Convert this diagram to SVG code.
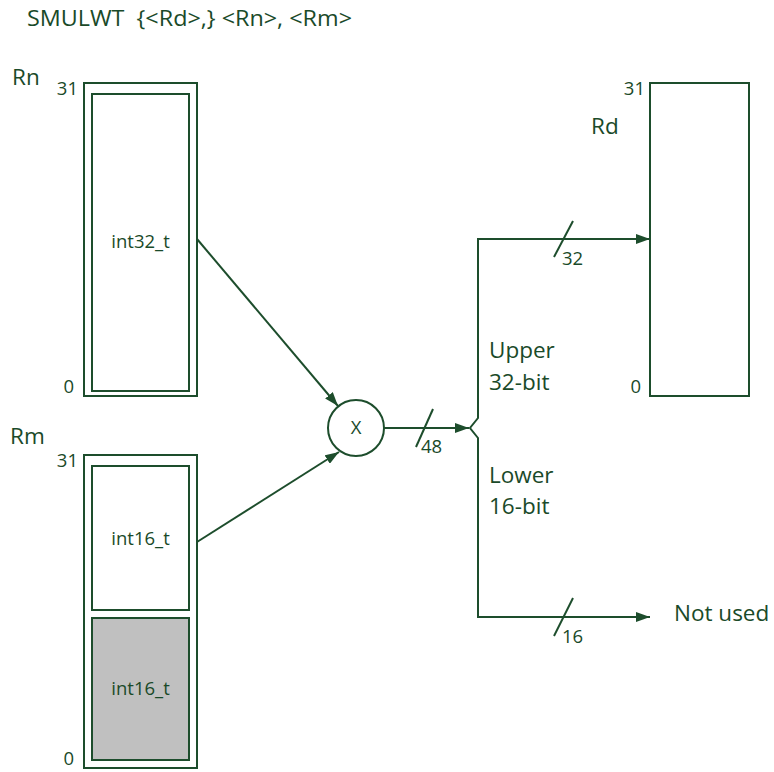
<svg xmlns="http://www.w3.org/2000/svg" width="774" height="772" viewBox="0 0 774 772">
<defs>
<marker id="ah" markerWidth="14" markerHeight="10" refX="14" refY="5" orient="auto" markerUnits="userSpaceOnUse">
<path d="M0,0 L14,5 L0,10 Z" fill="#1d4d2c"/>
</marker>
<style>
text{font-family:"Open Sans","Liberation Sans",sans-serif;fill:#1a4a29}
.t{font-size:22.5px}
.s{font-size:18.5px}
.b{fill:none;stroke:#1d4d2c;stroke-width:2}
.c{fill:none;stroke:#1d4d2c;stroke-width:2}
</style>
</defs>
<rect width="774" height="772" fill="#fff"/>
<text class="t" x="27" y="26" xml:space="preserve" textLength="325" lengthAdjust="spacingAndGlyphs">SMULWT  {&lt;Rd&gt;,} &lt;Rn&gt;, &lt;Rm&gt;</text>
<g id="Rn">
<text class="t" x="12" y="85">Rn</text>
<text class="s" x="78" y="95" text-anchor="end">31</text>
<text class="s" x="74" y="393" text-anchor="end">0</text>
<rect class="b" x="84" y="83" width="113" height="313"/>
<rect class="b" x="92" y="94" width="97" height="297"/>
<text class="s" x="140.5" y="248" text-anchor="middle">int32_t</text>
</g>
<g id="Rm">
<text class="t" x="10" y="444">Rm</text>
<text class="s" x="78" y="467" text-anchor="end">31</text>
<text class="s" x="74" y="765" text-anchor="end">0</text>
<rect class="b" x="84" y="455" width="113" height="313"/>
<rect class="b" x="92" y="466" width="97" height="144"/>
<rect x="92" y="618" width="97" height="142" fill="#c0c0c0" stroke="#1d4d2c" stroke-width="2"/>
<text class="s" x="140.5" y="545" text-anchor="middle">int16_t</text>
<text class="s" x="140.5" y="695" text-anchor="middle">int16_t</text>
</g>
<g id="Rd">
<text class="t" x="591" y="134">Rd</text>
<text class="s" x="645" y="95" text-anchor="end">31</text>
<text class="s" x="641" y="393" text-anchor="end">0</text>
<rect class="b" x="650" y="83" width="99" height="313"/>
</g>
<g id="mul">
<circle class="b" cx="356" cy="428" r="28"/>
<text class="s" x="356" y="434" text-anchor="middle">X</text>
</g>
<g id="labels">
<text class="t" x="489" y="358">Upper</text>
<text class="t" x="489" y="390">32-bit</text>
<text class="t" x="489" y="483">Lower</text>
<text class="t" x="489" y="514">16-bit</text>
<text class="t" x="674" y="621">Not used</text>
</g>
<g id="connectors">
<line class="c" x1="197" y1="239" x2="338" y2="406" marker-end="url(#ah)"/>
<line class="c" x1="197" y1="542" x2="339" y2="452" marker-end="url(#ah)"/>
<line class="c" x1="384" y1="428" x2="469" y2="428" marker-end="url(#ah)"/>
<path class="c" d="M640,239 H478 V418 L470,428 L478,438 V617 H640"/>
<line class="c" x1="478" y1="239" x2="650" y2="239" marker-end="url(#ah)"/>
<line class="c" x1="478" y1="617" x2="650" y2="617" marker-end="url(#ah)"/>
<line class="c" x1="416" y1="447" x2="433" y2="409"/>
<line class="c" x1="554" y1="257" x2="573" y2="221"/>
<line class="c" x1="554" y1="636" x2="573" y2="598"/>
<text class="s" x="421" y="453">48</text>
<text class="s" x="562" y="265">32</text>
<text class="s" x="562" y="643">16</text>
</g>
</svg>
